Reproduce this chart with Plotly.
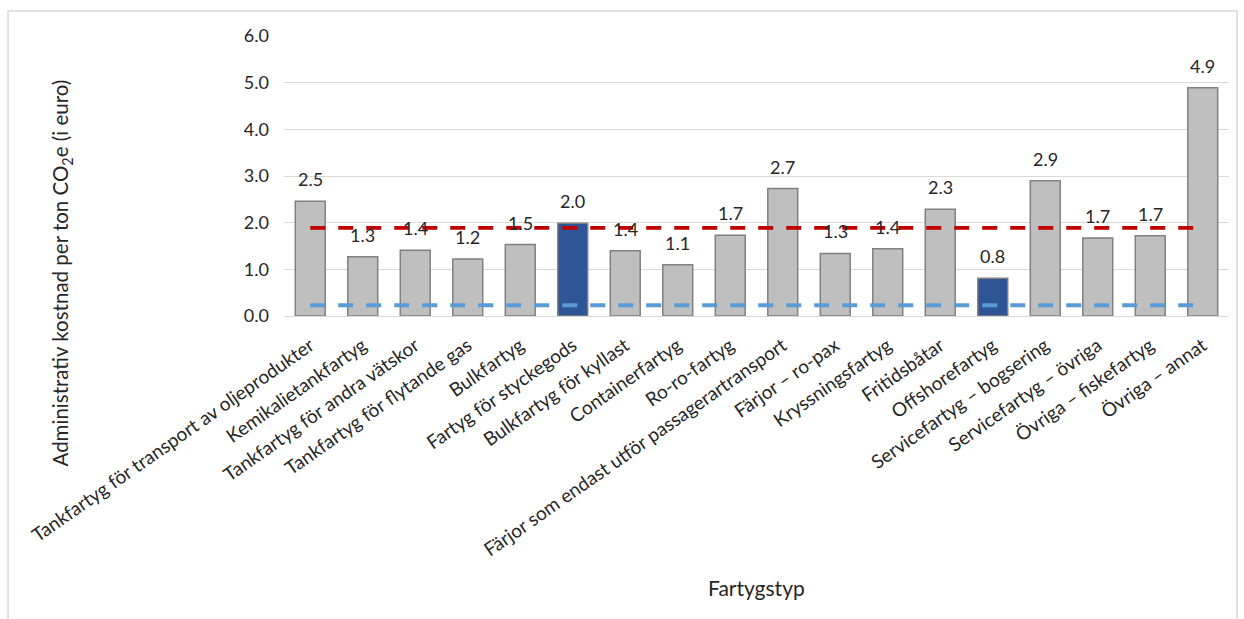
import plotly.graph_objects as go

categories = [
    "Tankfartyg för transport av oljeprodukter",
    "Kemikalietankfartyg",
    "Tankfartyg för andra vätskor",
    "Tankfartyg för flytande gas",
    "Bulkfartyg",
    "Fartyg för styckegods",
    "Bulkfartyg för kyllast",
    "Containerfartyg",
    "Ro-ro-fartyg",
    "Färjor som endast utför passagerartransport",
    "Färjor – ro-pax",
    "Kryssningsfartyg",
    "Fritidsbåtar",
    "Offshorefartyg",
    "Servicefartyg – bogsering",
    "Servicefartyg – övriga",
    "Övriga – fiskefartyg",
    "Övriga – annat",
]
values = [2.46, 1.27, 1.41, 1.22, 1.53, 1.99, 1.40, 1.10, 1.73, 2.73,
          1.34, 1.44, 2.29, 0.81, 2.90, 1.67, 1.72, 4.89]
highlighted = ["Fartyg för styckegods", "Offshorefartyg"]
red_level = [1.89] * len(categories)
blue_level = [0.23] * len(categories)

FONT = "Lato"
TXT = "#262626"

colors = ["#2f5597" if c in highlighted else "#bfbfbf" for c in categories]

fig = go.Figure()
fig.add_trace(go.Bar(
    x=categories, y=values,
    marker=dict(color=colors, line=dict(color="#808080", width=1.5)),
    showlegend=False, hoverinfo="x+y",
))
fig.add_trace(go.Scatter(
    x=categories, y=red_level, mode="lines",
    line=dict(color="#c00000", width=3.8, dash="15px,13px"),
    showlegend=False,
))
fig.add_trace(go.Scatter(
    x=categories, y=blue_level, mode="lines",
    line=dict(color="#5b9bd5", width=3.8, dash="15px,13px"),
    showlegend=False,
))

annotations = []
for c, v in zip(categories, values):
    annotations.append(dict(
        x=c, y=v, xref="x", yref="y", text=f"{v:.1f}", showarrow=False,
        yshift=22, font=dict(family=FONT, size=18, color=TXT),
    ))

annotations.append(dict(
    x=-0.235, y=0.155, xref="paper", yref="paper",
    xanchor="center", yanchor="middle",
    text="Administrativ kostnad per ton CO<sub>2</sub>e (i euro)",
    textangle=-90, showarrow=False,
    font=dict(family=FONT, size=20.5, color=TXT),
))
annotations.append(dict(
    x=0.5, y=-0.968, xref="paper", yref="paper",
    xanchor="center", yanchor="middle",
    text="Fartygstyp", showarrow=False,
    font=dict(family=FONT, size=21, color=TXT),
))

fig.update_layout(
    width=1244, height=619,
    margin=dict(l=284, r=15, t=36, b=303),
    paper_bgcolor="white", plot_bgcolor="white",
    bargap=0.43,
    annotations=annotations,
    shapes=[dict(type="rect", xref="paper", yref="paper",
                 x0=-0.292, x1=1.0085, y0=-1.2, y1=1.089,
                 line=dict(color="#d9d9d9", width=1.5), layer="below")],
    font=dict(family=FONT, size=18, color=TXT),
)
fig.update_xaxes(
    tickangle=-35, tickfont=dict(family=FONT, size=19, color=TXT),
    showgrid=False, showline=False, ticks="",
    ticklabelstandoff=14,
)
fig.update_yaxes(
    range=[0, 6], dtick=1, tickformat=".1f",
    showgrid=True, gridcolor="#d9d9d9", gridwidth=1,
    zeroline=True, zerolinecolor="#d9d9d9", zerolinewidth=1,
    tickfont=dict(family=FONT, size=18, color=TXT),
    ticklabelstandoff=14,
)

fig.write_html("out.html")
